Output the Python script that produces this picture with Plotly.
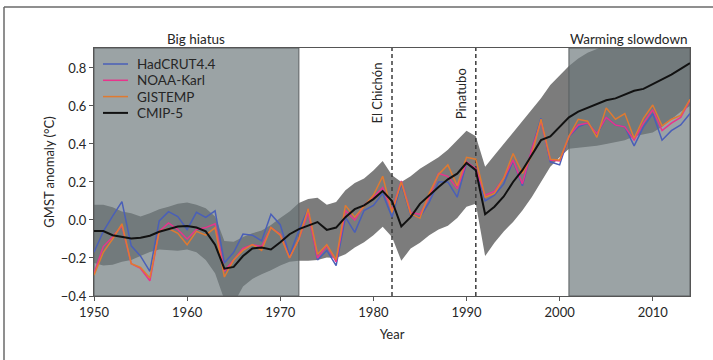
import plotly.graph_objects as go

# ---- data -----------------------------------------------------------------
years = list(range(1950, 2015))

hadcrut = [-0.17, -0.06, 0.02, 0.097, -0.136, -0.19, -0.27, -0.005, 0.044, 0.018,
           -0.05, 0.04, 0.014, 0.048, -0.226, -0.17, -0.074, -0.08, -0.11, 0.03,
           -0.025, -0.185, -0.055, 0.06, -0.21, -0.16, -0.24, 0.015, -0.065, 0.05,
           0.077, 0.14, 0.015, 0.19, 0.024, 0.015, 0.094, 0.2, 0.2, 0.12,
           0.3, 0.26, 0.1, 0.13, 0.19, 0.31, 0.18, 0.37, 0.535, 0.306,
           0.29, 0.44, 0.49, 0.51, 0.45, 0.54, 0.50, 0.49, 0.39, 0.49,
           0.56, 0.42, 0.47, 0.50, 0.56]

noaa = [-0.28, -0.14, -0.09, -0.03, -0.23, -0.255, -0.32, -0.06, -0.015, -0.05,
        -0.1, -0.05, -0.04, -0.02, -0.27, -0.21, -0.15, -0.13, -0.14, -0.04,
        -0.075, -0.2, -0.1, 0.04, -0.2, -0.135, -0.22, 0.05, 0.0, 0.077,
        0.12, 0.17, 0.05, 0.205, 0.04, 0.03, 0.12, 0.245, 0.23, 0.165,
        0.305, 0.27, 0.13, 0.15, 0.22, 0.315, 0.19, 0.37, 0.52, 0.315,
        0.31, 0.44, 0.5, 0.51, 0.455, 0.54, 0.5, 0.49, 0.42, 0.51,
        0.58, 0.47, 0.51, 0.54, 0.63]

gistemp = [-0.29, -0.17, -0.1, -0.02, -0.23, -0.25, -0.305, -0.06, -0.045, -0.07,
           -0.13, -0.06, -0.08, -0.04, -0.30, -0.21, -0.16, -0.13, -0.16, -0.04,
           -0.08, -0.2, -0.1, 0.06, -0.18, -0.13, -0.21, 0.077, 0.015, 0.07,
           0.13, 0.23, 0.04, 0.2, 0.03, 0.01, 0.14, 0.24, 0.29, 0.18,
           0.33, 0.32, 0.12, 0.14, 0.22, 0.35, 0.245, 0.34, 0.53, 0.32,
           0.315, 0.44, 0.53, 0.52, 0.435, 0.59, 0.53, 0.56, 0.43, 0.535,
           0.605, 0.495, 0.53, 0.55, 0.635]

cmip5 = [-0.058, -0.058, -0.08, -0.09, -0.097, -0.093, -0.083, -0.062, -0.048, -0.034,
         -0.032, -0.04, -0.06, -0.13, -0.256, -0.247, -0.19, -0.15, -0.145, -0.155,
         -0.117, -0.075, -0.048, -0.03, -0.011, -0.052, -0.04, 0.015, 0.057, 0.077,
         0.11, 0.152, 0.10, -0.034, 0.015, 0.085, 0.13, 0.174, 0.214, 0.244,
         0.30, 0.262, 0.03, 0.07, 0.124, 0.2, 0.262, 0.34, 0.42, 0.44,
         0.49, 0.54, 0.57, 0.59, 0.61, 0.63, 0.64, 0.66, 0.68, 0.69,
         0.715, 0.74, 0.765, 0.795, 0.825]

# CMIP-5 ensemble spread
cmip5_upper = [0.08, 0.08, 0.067, 0.044, 0.035, 0.018, 0.035, 0.056, 0.07, 0.085,
               0.092, 0.08, 0.062, 0.018, -0.11, -0.115, -0.09, -0.07, -0.055, -0.026,
               0.01, 0.044, 0.09, 0.11, 0.117, 0.08, 0.094, 0.156, 0.195, 0.218,
               0.26, 0.31, 0.235, 0.2, 0.23, 0.27, 0.3, 0.33, 0.37, 0.42,
               0.47, 0.44, 0.28, 0.34, 0.4, 0.46, 0.52, 0.58, 0.64, 0.71,
               0.76, 0.81, 0.85, 0.88, 0.9, 0.92, 0.94, 0.96, 0.98, 0.99,
               1.0, 1.01, 1.02, 1.03, 1.04]
cmip5_lower = [-0.226, -0.24, -0.235, -0.22, -0.21, -0.19, -0.168, -0.155, -0.16, -0.162,
               -0.155, -0.17, -0.21, -0.28, -0.42, -0.44, -0.35, -0.31, -0.285, -0.265,
               -0.24, -0.22, -0.215, -0.215, -0.21, -0.197, -0.2, -0.18, -0.145, -0.117,
               -0.08, -0.035, -0.09, -0.215, -0.15, -0.12, -0.08, -0.05, -0.03, 0.01,
               0.07, 0.085, -0.19, -0.12, -0.06, -0.01, 0.05, 0.12, 0.2, 0.28,
               0.33, 0.375, 0.38, 0.385, 0.39, 0.40, 0.41, 0.42, 0.44, 0.45,
               0.46, 0.49, 0.53, 0.57, 0.6]

periods = [("Big hiatus", 1950, 1972), ("Warming slowdown", 2001, 2014)]
eruptions = [("El Chichón", 1982), ("Pinatubo", 1991)]

x_ticks = [1950, 1960, 1970, 1980, 1990, 2000, 2010]
y_ticks = [-0.4, -0.2, 0.0, 0.2, 0.4, 0.6, 0.8]
x_range = [1950, 2014]
y_range = [-0.4, 0.905]

# ---- styling --------------------------------------------------------------
FONT = "Lato, 'Open Sans', sans-serif"
TEXT = "#262626"
FRAME = "#555555"
BAND = "rgb(124,124,124)"
PERIOD_FILL = "rgba(109,121,124,0.685)"

W, H = 713, 360
M = dict(l=94, r=23, t=48, b=64)
PW = W - M["l"] - M["r"]
PH = H - M["t"] - M["b"]


def px_x(px):
    """Figure pixel column -> paper x."""
    return (px - M["l"]) / PW


def px_y(py):
    """Figure pixel row -> paper y."""
    return 1 - (py - M["t"]) / PH


fig = go.Figure()

# ensemble spread
fig.add_trace(go.Scatter(x=years, y=cmip5_lower, mode="lines", line=dict(width=0),
                         showlegend=False, hoverinfo="skip"))
fig.add_trace(go.Scatter(x=years, y=cmip5_upper, mode="lines", line=dict(width=0),
                         fill="tonexty", fillcolor=BAND,
                         showlegend=False, hoverinfo="skip"))

# shaded periods, laid over the spread but under the series
for name, x0, x1 in periods:
    fig.add_trace(go.Scatter(
        x=[x0, x1, x1, x0, x0],
        y=[y_range[0], y_range[0], y_range[1], y_range[1], y_range[0]],
        mode="lines", fill="toself", fillcolor=PERIOD_FILL,
        line=dict(color="#5a5f60", width=1),
        showlegend=False, hoverinfo="skip"))

# eruption markers
for name, yr in eruptions:
    fig.add_trace(go.Scatter(x=[yr, yr], y=y_range, mode="lines",
                             line=dict(color="#3c3c3c", width=1.5, dash="4px,3px"),
                             showlegend=False, hoverinfo="skip"))

series = [
    ("HadCRUT4.4", hadcrut, "#4a5fb8", 1.5),
    ("NOAA-Karl", noaa, "#e8348c", 1.5),
    ("GISTEMP", gistemp, "#e07a30", 1.5),
    ("CMIP-5", cmip5, "#111111", 2),
]
for name, vals, color, w in series:
    fig.add_trace(go.Scatter(x=years, y=vals, mode="lines", name=name,
                             line=dict(color=color, width=w), showlegend=False))

annotations = []
shapes = []

# compact legend: short line sample + label per series
for i, (name, vals, color, w) in enumerate(series):
    row = px_y(64 + i * 16.3)
    shapes.append(dict(type="line", xref="paper", yref="paper",
                       x0=px_x(103), x1=px_x(128), y0=row, y1=row,
                       line=dict(color=color, width=w)))
    annotations.append(dict(x=px_x(135), y=row, xref="paper", yref="paper",
                            text=name, showarrow=False, xanchor="left",
                            yanchor="middle", font=dict(size=13.5, color=TEXT)))

for name, x0, x1 in periods:
    annotations.append(dict(x=(x0 + x1) / 2, xref="x", y=px_y(39), yref="paper",
                            text=name, showarrow=False, xanchor="center",
                            yanchor="middle", font=dict(size=13.5, color=TEXT)))
for (name, yr), top in zip(eruptions, [61, 66]):
    annotations.append(dict(x=yr, xref="x", y=px_y(top), yref="paper", text=name,
                            textangle=-90, showarrow=False, xanchor="center",
                            yanchor="top", xshift=-15,
                            font=dict(size=13, color=TEXT)))

# outer panel border (top and left edges)
shapes.append(dict(type="line", xref="paper", yref="paper",
                   x0=px_x(4), x1=px_x(4), y0=px_y(7), y1=px_y(420),
                   line=dict(color="#6a6a6a", width=1.5)))
shapes.append(dict(type="line", xref="paper", yref="paper",
                   x0=px_x(4), x1=px_x(780), y0=px_y(7), y1=px_y(7),
                   line=dict(color="#6a6a6a", width=1.5)))

fig.update_layout(
    width=W, height=H,
    margin=M,
    paper_bgcolor="white", plot_bgcolor="white",
    font=dict(family=FONT, size=12, color=TEXT),
    showlegend=False,
    annotations=annotations,
    shapes=shapes,
)
fig.update_xaxes(range=x_range, tickvals=x_ticks, showgrid=False, zeroline=False,
                 showline=True, mirror=True, linecolor=FRAME, linewidth=1,
                 ticks="outside", ticklen=4, tickcolor=FRAME,
                 tickfont=dict(size=13), title=dict(text="Year", font=dict(size=13), standoff=11))
fig.update_yaxes(range=y_range, tickvals=y_ticks, tickformat=".1f", showgrid=False,
                 zeroline=False, showline=True, mirror=True, linecolor=FRAME, linewidth=1,
                 ticks="outside", ticklen=4, tickcolor=FRAME,
                 tickfont=dict(size=13),
                 title=dict(text="GMST anomaly (°C)", font=dict(size=13), standoff=3))

fig.write_html("out.html")
